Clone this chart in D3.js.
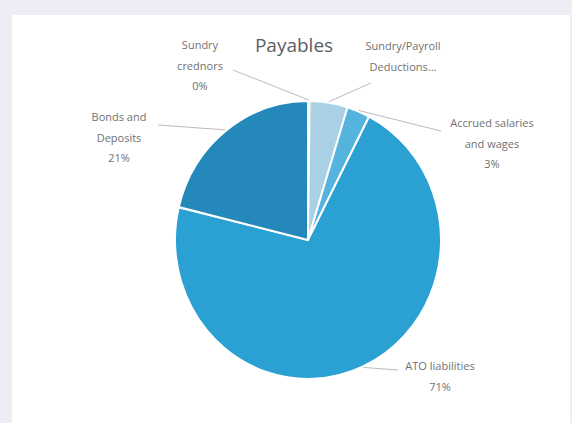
<!DOCTYPE html>
<html>
<head>
<meta charset="utf-8">
<script src="https://cdn.jsdelivr.net/npm/d3@7/dist/d3.min.js"></script>
<style>
  html, body { margin: 0; padding: 0; background: #eeedf5; }
  svg { display: block; }
</style>
</head>
<body>
<svg id="chart" width="572" height="423"></svg>
<script>
// Payables breakdown (% of total)
const categories = [
  "Sundry creditors",
  "Sundry/Payroll Deductions",
  "Accrued salaries and wages",
  "ATO liabilities",
  "Bonds and Deposits"
];
const values = [0.2, 4.6, 2.8, 71.2, 21.2];
const colors = ["#1f7fae", "#a9d0e5", "#55b4de", "#2aa1d2", "#2489ba"];

// Label lines as they wrap in the callouts
const labelLines = [
  ["Sundry", "crednors"],
  ["Sundry/Payroll", "Deductions..."],
  ["Accrued salaries", "and wages"],
  ["ATO liabilities"],
  ["Bonds and", "Deposits"]
];
const showPercent = [true, false, true, true, true];

// Callout anchor (text centre x, first baseline y) and leader-line end
const labelPos = [
  { x: 200, y: 49, lx: 233, ly: 70 },
  { x: 403, y: 50, lx: 371, ly: 83 },
  { x: 492, y: 127, lx: 441, ly: 131 },
  { x: 440, y: 370, lx: 398, ly: 370 },
  { x: 119, y: 121, lx: 158, ly: 125 }
];

const svg = d3.select("#chart");
const W = 572, H = 423;

// chart area
svg.append("rect")
  .attr("x", 12).attr("y", 15)
  .attr("width", 558).attr("height", H - 15)
  .attr("fill", "#ffffff");

svg.append("text")
  .attr("x", 294).attr("y", 52)
  .attr("text-anchor", "middle")
  .attr("font-family", "'Open Sans', sans-serif")
  .attr("font-size", 19)
  .attr("fill", "#5c5d66")
  .text("Payables");

const cx = 308, cy = 240, r = 133, sy = 1.045;

const pie = d3.pie().sort(null).value(d => d)(values);
const arc = d3.arc().innerRadius(0).outerRadius(r);

const g = svg.append("g")
  .attr("transform", `translate(${cx},${cy}) scale(1,${sy})`);

g.selectAll("path")
  .data(pie)
  .join("path")
  .attr("d", arc)
  .attr("fill", (d, i) => colors[i])
  .attr("stroke", "#ffffff")
  .attr("stroke-width", 2)
  .attr("stroke-linejoin", "round");

// leader lines from each slice's outer edge to its callout
pie.forEach((d, i) => {
  const a = (d.startAngle + d.endAngle) / 2;
  const px = cx + Math.sin(a) * (r + 1);
  const py = cy - Math.cos(a) * (r + 1) * sy;
  const p = labelPos[i];
  svg.append("line")
    .attr("x1", p.lx).attr("y1", p.ly)
    .attr("x2", px).attr("y2", py)
    .attr("stroke", "#bcbcbc")
    .attr("stroke-width", 1);
});

// callout text
pie.forEach((d, i) => {
  const p = labelPos[i];
  const lines = labelLines[i].slice();
  if (showPercent[i]) lines.push(Math.round(values[i]) + "%");
  const t = svg.append("text")
    .attr("text-anchor", "middle")
    .attr("font-family", "'Open Sans', sans-serif")
    .attr("font-size", 11)
    .attr("fill", "#717171");
  lines.forEach((s, k) => {
    t.append("tspan")
      .attr("x", p.x)
      .attr("y", p.y + k * 20.5)
      .text(s);
  });
});
</script>
</body>
</html>
